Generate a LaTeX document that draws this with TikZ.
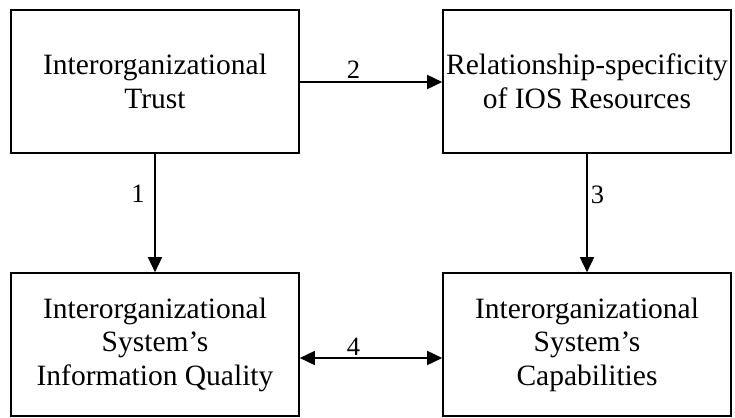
\documentclass[tikz,border=0pt]{standalone}
\usepackage{fontspec}
\setmainfont{Liberation Serif}
\usetikzlibrary{arrows.meta}
\begin{document}
\begin{tikzpicture}[x=1pt,y=-1pt,
  box/.style={draw,line width=1.6pt,rectangle,minimum width=288pt,minimum height=143pt,inner sep=0pt,align=center,font=\fontsize{29.5}{33.5}\selectfont},
  tip/.style={Triangle[length=15pt,width=14pt]},
  conn/.style={line width=1.6pt,-{Triangle[length=15pt,width=14pt]}},
  lbl/.style={font=\fontsize{26.5}{30}\selectfont,inner sep=0pt}]
\useasboundingbox (0,0) rectangle (735,417);
\node[box] (tl) at (155,81.5) {Interorganizational\\Trust};
\node[box] (tr) at (587,81.5) {Relationship-specificity\\of IOS Resources};
\node[box] (bl) at (155,344.5) {Interorganizational\\System’s\\Information Quality};
\node[box] (br) at (587,344.5) {Interorganizational\\System’s\\Capabilities};
\draw[conn] (tl.east |- 0,82) -- (tr.west |- 0,82);
\draw[conn] (tl.south) -- (bl.north);
\draw[conn] (tr.south) -- (br.north);
\draw[line width=1.6pt,{Triangle[length=15pt,width=14pt]}-{Triangle[length=15pt,width=14pt]}] (bl.east |- 0,358) -- (br.west |- 0,358);
\node[lbl] (n2) at (353.5,69.5) {2};
\node[lbl] (n1) at (138,194) {1};
\node[lbl] (n3) at (597.5,194.5) {3};
\node[lbl] (n4) at (353.5,346.5) {4};
\end{tikzpicture}
\end{document}
